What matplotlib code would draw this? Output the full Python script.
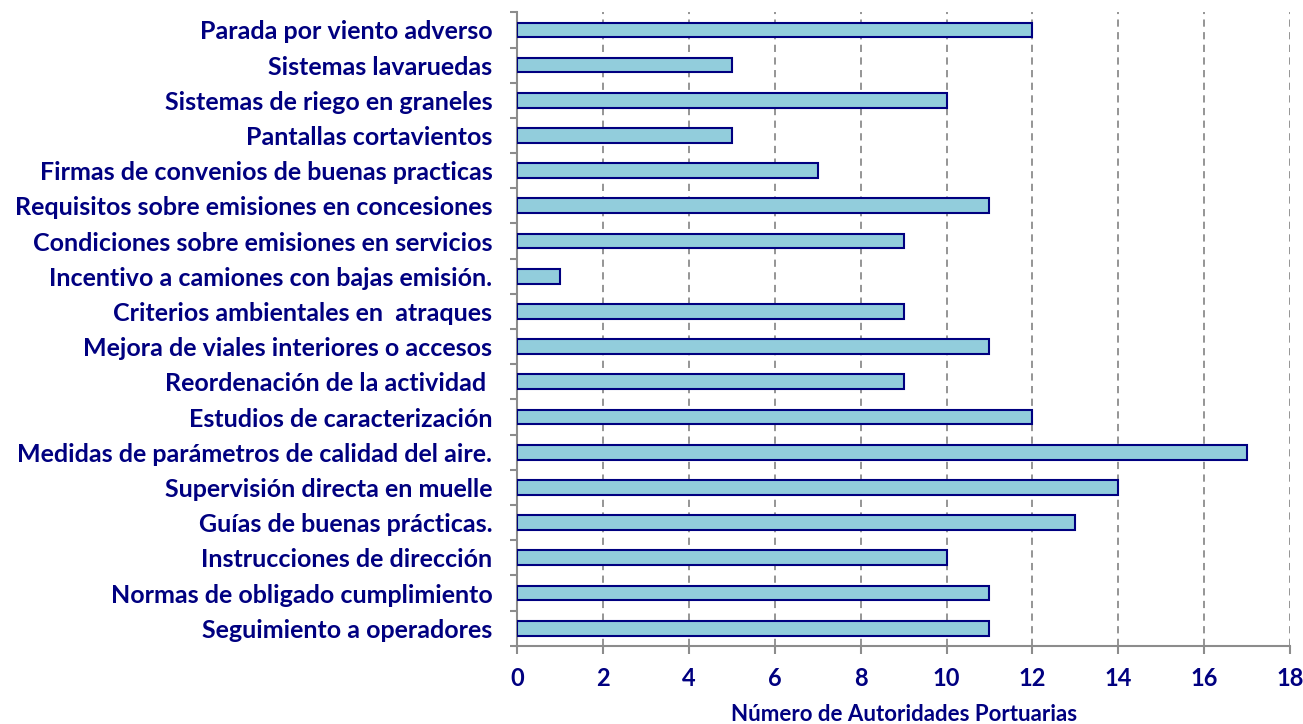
import matplotlib.pyplot as plt
import numpy as np

categories = [
    "Seguimiento a operadores",
    "Normas de obligado cumplimiento",
    "Instrucciones de dirección",
    "Guías de buenas prácticas.",
    "Supervisión directa en muelle",
    "Medidas de parámetros de calidad del aire.",
    "Estudios de caracterización",
    "Reordenación de la actividad ",
    "Mejora de viales interiores o accesos",
    "Criterios ambientales en  atraques",
    "Incentivo a camiones con bajas emisión.",
    "Condiciones sobre emisiones en servicios",
    "Requisitos sobre emisiones en concesiones",
    "Firmas de convenios de buenas practicas",
    "Pantallas cortavientos",
    "Sistemas de riego en graneles",
    "Sistemas lavaruedas",
    "Parada por viento adverso",
]
values = [11, 11, 10, 13, 14, 17, 12, 9, 11, 9, 1, 9, 11, 7, 5, 10, 5, 12]
xticks = list(range(0, 19, 2))

navy = "#000080"
fill = "#92CDDC"
grey = "#8C8C8C"

plt.rcParams["font.family"] = ["Lato", "DejaVu Sans"]
plt.rcParams["font.weight"] = "bold"

fig = plt.figure(figsize=(13.03, 7.24), dpi=100)
ax = fig.add_axes([0.397, 0.108, 0.593, 0.875])

y = np.arange(len(categories))
ax.barh(y, values, height=0.42, color=fill, edgecolor=navy, linewidth=1.5, zorder=3)

ax.set_xlim(0, 18)
ax.set_ylim(-0.5, len(categories) - 0.5)
ax.set_xticks(xticks)
ax.set_xticklabels([str(t) for t in xticks], fontsize=17, color=navy, fontweight="bold")
ax.set_yticks(y)
ax.set_yticklabels(categories, fontsize=18, color=navy, fontweight="bold")
ax.set_yticks(np.arange(-0.5, len(categories)), minor=True)
ax.tick_params(axis="y", which="major", length=0, pad=18)
ax.tick_params(axis="y", which="minor", length=5, color=grey, width=1.5, direction="out")
ax.tick_params(axis="x", length=6, color=grey, width=1.5, direction="out", pad=9)

ax.grid(axis="x", linestyle=(0, (4, 3)), color=grey, linewidth=1.3, zorder=0)
for s in ["top", "right"]:
    ax.spines[s].set_visible(False)
for s in ["left", "bottom"]:
    ax.spines[s].set_color(grey)
    ax.spines[s].set_linewidth(1.5)

ax.set_xlabel("Número de Autoridades Portuarias", fontsize=16, color=navy,
              fontweight="bold", labelpad=10)

fig.savefig("out.png", dpi=100)
